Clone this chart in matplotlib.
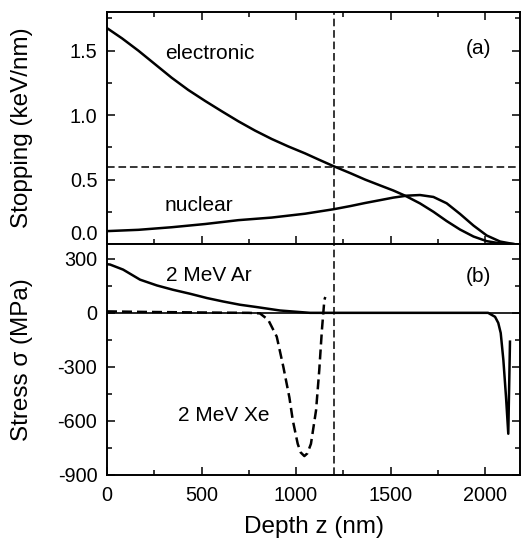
import matplotlib
matplotlib.use("Agg")
import matplotlib.pyplot as plt
from matplotlib.ticker import MultipleLocator

plt.rcParams['font.family'] = ['Liberation Sans', 'DejaVu Sans']

# ---- data ----
z_elec = [0, 80, 166, 254, 342, 430, 519, 607, 695, 783, 871, 959, 1048, 1120,
          1200, 1290, 1365, 1444, 1515, 1577, 1656, 1727, 1797, 1868, 1939, 2009,
          2080, 2150]
s_elec = [1.675, 1.595, 1.50, 1.395, 1.29, 1.195, 1.11, 1.03, 0.952, 0.88, 0.815,
          0.757, 0.703, 0.655, 0.603, 0.548, 0.50, 0.455, 0.415, 0.375, 0.315,
          0.25, 0.178, 0.112, 0.058, 0.022, 0.005, 0.0]

z_nucl = [0, 166, 342, 519, 695, 871, 1048, 1200, 1290, 1365, 1444, 1515, 1586,
          1656, 1727, 1797, 1868, 1939, 2009, 2080, 2150]
s_nucl = [0.10, 0.11, 0.13, 0.155, 0.185, 0.205, 0.235, 0.27, 0.295, 0.318,
          0.34, 0.36, 0.375, 0.38, 0.365, 0.316, 0.233, 0.143, 0.066, 0.019, 0.0]

z_ar = [0, 16, 85, 175, 264, 349, 439, 529, 614, 703, 792, 915, 1000, 1074,
        2016, 2053, 2070, 2083, 2097, 2111, 2123, 2132]
sig_ar = [270, 268, 240, 184, 152, 128, 106, 82, 63, 45, 32, 13, 6, 0,
          0, -22, -56, -112, -262, -467, -671, -160]

z_xe = [0, 200, 400, 600, 750, 809, 853, 898, 933, 965, 983, 1009, 1025, 1044,
        1060, 1079, 1106, 1123, 1137, 1150, 1155]
sig_xe = [8, 5, 3, 1, 0, -3, -39, -132, -300, -470, -597, -727, -775, -795,
          -780, -727, -541, -318, -95, 72, 88]

z_ref = 1200          # vertical reference depth (nm)
s_ref = 0.6           # horizontal reference stopping (keV/nm)

stop_ticks = [0.0, 0.5, 1.0, 1.5]
stress_ticks = [300, 0, -300, -600, -900]
depth_ticks = [0, 500, 1000, 1500, 2000]

# ---- figure ----
W, H = 522, 543
fig = plt.figure(figsize=(W / 100, H / 100), dpi=100)
left = 107 / W
width = (520 - 107) / W
ax1 = fig.add_axes([left, (H - 244) / H, width, (244 - 12) / H])
ax2 = fig.add_axes([left, (H - 475) / H, width, (475 - 244) / H])

lw = 1.8
ax1.plot(z_elec, s_elec, color='black', lw=lw)
ax1.plot(z_nucl, s_nucl, color='black', lw=lw)
ax1.axhline(s_ref, color='black', lw=1.1, dashes=(5, 2.5))
ax1.axvline(z_ref, color='black', lw=1.1, dashes=(5, 2.5))

ax2.axhline(0, color='black', lw=1.2)
ax2.plot(z_ar, sig_ar, color='black', lw=lw)
ax2.plot(z_xe, sig_xe, color='black', lw=lw, dashes=(4, 2))
ax2.axvline(z_ref, color='black', lw=1.1, dashes=(5, 2.5))

xmax = 2185
ax1.set_xlim(0, xmax)
ax2.set_xlim(0, xmax)
ax1.set_ylim(0, 1.8)
ax2.set_ylim(-900, 382)

ax1.set_yticks(stop_ticks)
ax1.set_yticklabels([f"{v:.1f}" for v in stop_ticks])
ax1.yaxis.set_minor_locator(MultipleLocator(0.25))
ax2.set_yticks(stress_ticks)
ax2.set_yticklabels([str(v) for v in stress_ticks])
ax2.yaxis.set_minor_locator(MultipleLocator(150))
for ax in (ax1, ax2):
    ax.set_xticks(depth_ticks)
    ax.xaxis.set_minor_locator(MultipleLocator(250))
    for s in ax.spines.values():
        s.set_linewidth(1.4)

ax1.tick_params(axis='both', which='both', direction='in', top=True, right=True,
                labelbottom=False, width=1.1)
ax1.tick_params(which='major', length=6, labelsize=14.3, pad=7)
ax1.tick_params(which='minor', length=3.5)
ax2.tick_params(axis='both', which='both', direction='in', top=False, right=True,
                width=1.1)
ax2.tick_params(which='major', length=6, labelsize=14.3, pad=7)
ax2.tick_params(which='minor', length=3.5)
ax2.tick_params(axis='x', which='major', pad=8)

# lift the "0.0" label so it does not collide with "300" below it
ax1.get_yticklabels()[0].set_va('bottom')

ax1.set_ylabel("Stopping (keV/nm)", fontsize=17.5)
ax2.set_ylabel("Stress σ (MPa)", fontsize=17.5)
ax2.set_xlabel("Depth z (nm)", fontsize=17.5, labelpad=8)
ax1.yaxis.set_label_coords(-0.178, 0.5)
ax2.yaxis.set_label_coords(-0.178, 0.5)

tfs = 15
ax1.text(545, 1.48, "electronic", fontsize=tfs, ha='center', va='center')
ax1.text(484, 0.30, "nuclear", fontsize=tfs, ha='center', va='center')
ax1.text(1966, 1.52, "(a)", fontsize=tfs, ha='center', va='center')
ax2.text(1966, 201, "(b)", fontsize=tfs, ha='center', va='center')
ax2.text(537, 209, "2 MeV Ar", fontsize=tfs, ha='center', va='center')
ax2.text(619, -569, "2 MeV Xe", fontsize=tfs, ha='center', va='center')

fig.savefig("out.png", dpi=100)
